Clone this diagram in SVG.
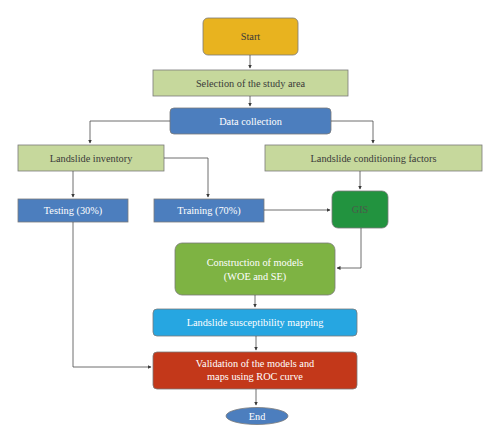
<svg xmlns="http://www.w3.org/2000/svg" width="500" height="443" viewBox="0 0 500 443">
<defs>
<marker id="ah" markerWidth="4" markerHeight="4" refX="3.5" refY="2" orient="auto" markerUnits="userSpaceOnUse">
<path d="M0,0 L4,2 L0,4 Z" fill="#3a3a3a"/>
</marker>
</defs>
<style>
.box{stroke:#7a7a7a;stroke-width:0.8}
.t{font-family:"Liberation Serif","Times New Roman",serif;font-size:10.3px;text-anchor:middle;dominant-baseline:central}
.dk{fill:#3a3a3a}
.wt{fill:#ffffff}
.c{fill:none;stroke:#4a4a4a;stroke-width:0.8;marker-end:url(#ah)}
</style>
<rect width="500" height="443" fill="#ffffff"/>
<g id="start"><rect class="box" x="203" y="18" width="95" height="37" rx="5" fill="#E8B31F"/><text class="t dk" x="250.5" y="36.5">Start</text></g>
<g id="selection"><rect class="box" x="153" y="70" width="195" height="26" fill="#C6D89C"/><text class="t dk" x="250.5" y="83">Selection of the study area</text></g>
<g id="data"><rect class="box" x="170" y="108" width="161" height="26" rx="4" fill="#4C7EBE"/><text class="t wt" x="250.5" y="121">Data collection</text></g>
<g id="inventory"><rect class="box" x="18" y="145" width="146" height="26" fill="#C6D89C"/><text class="t dk" x="91" y="158">Landslide inventory</text></g>
<g id="factors"><rect class="box" x="265" y="145" width="217" height="26" fill="#C6D89C"/><text class="t dk" x="373.5" y="158">Landslide conditioning factors</text></g>
<g id="testing"><rect class="box" x="18" y="199" width="110" height="23" fill="#4C7EBE"/><text class="t wt" x="73" y="210.5">Testing (30%)</text></g>
<g id="training"><rect class="box" x="154" y="199" width="110" height="23" fill="#4C7EBE"/><text class="t wt" x="209" y="210.5">Training (70%)</text></g>
<g id="gis"><rect class="box" x="332" y="191" width="56" height="37" rx="6" fill="#22933F"/><text class="t" fill="#4a5a4a" x="360" y="209.5">GIS</text></g>
<g id="construction"><rect class="box" x="175" y="243" width="160" height="52" rx="7" fill="#7EB343"/><text class="t wt" x="255" y="262">Construction of models</text><text class="t wt" x="255" y="276">(WOE and SE)</text></g>
<g id="mapping"><rect class="box" x="153" y="309" width="204" height="27" rx="4" fill="#26A6E1"/><text class="t wt" x="255" y="322.5">Landslide susceptibility mapping</text></g>
<g id="validation"><rect class="box" x="153" y="352" width="204" height="37" rx="4" fill="#C3381A"/><text class="t wt" x="255" y="363">Validation of the models and</text><text class="t wt" x="255" y="376">maps using ROC curve</text></g>
<g id="end"><ellipse class="box" cx="257" cy="416" rx="31" ry="8.5" fill="#4C7EBE"/><text class="t wt" x="257" y="416">End</text></g>
<g id="connectors">
<path class="c" d="M250,55 V68"/>
<path class="c" d="M250,96 V106"/>
<path class="c" d="M170,121 H90 V143"/>
<path class="c" d="M331,121 H373 V143"/>
<path class="c" d="M73,171 V197"/>
<path class="c" d="M164,158 H208 V197"/>
<path class="c" d="M360,171 V189"/>
<path class="c" d="M264,210 H330"/>
<path class="c" d="M361,228 V268 H337"/>
<path class="c" d="M255,295 V307"/>
<path class="c" d="M256,336 V350"/>
<path class="c" d="M73,222 V367 H151"/>
<path class="c" d="M256,389 V405"/>
</g>
</svg>
